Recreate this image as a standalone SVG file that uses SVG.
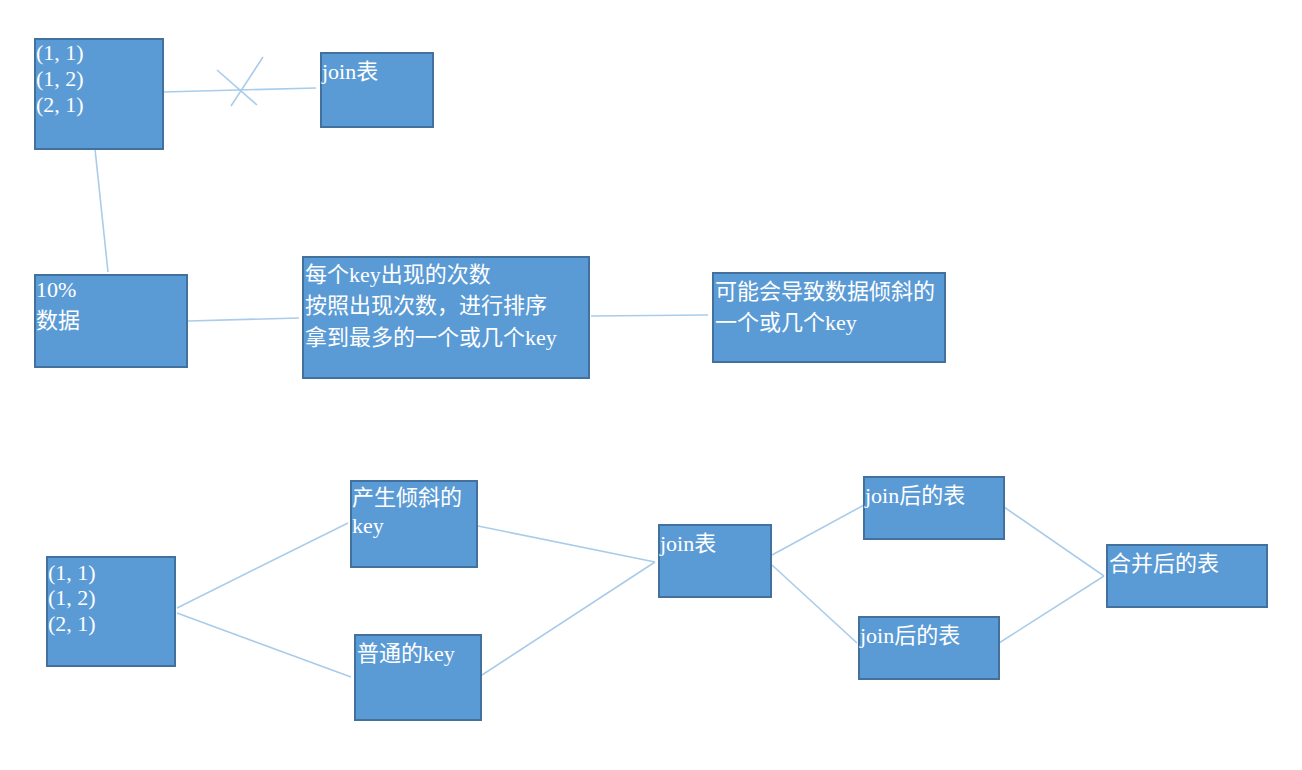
<svg xmlns="http://www.w3.org/2000/svg" width="1302" height="770" viewBox="0 0 1302 770">
<style>
.box{fill:#5B9BD5;stroke:#41719C;stroke-width:2}
.t{fill:#fff;font-family:"Liberation Serif","Noto Sans CJK SC",serif;font-size:22px}
.l{font-family:"Liberation Serif","Times New Roman",serif}
.c{stroke:#A9CCEA;stroke-width:1.6;fill:none}
</style>
<rect width="1302" height="770" fill="#fff"/>
<g id="connectors">
<line class="c" x1="163" y1="92" x2="316" y2="88"/>
<line class="c" x1="217" y1="70" x2="257" y2="105"/>
<line class="c" x1="263" y1="57" x2="231" y2="106"/>
<line class="c" x1="95" y1="149" x2="108" y2="272"/>
<line class="c" x1="188" y1="321" x2="299" y2="318"/>
<line class="c" x1="591" y1="316" x2="708" y2="315"/>
<line class="c" x1="177" y1="608" x2="348" y2="523"/>
<line class="c" x1="177" y1="613" x2="351" y2="677"/>
<line class="c" x1="478" y1="526" x2="655" y2="562"/>
<line class="c" x1="482" y1="675" x2="655" y2="562"/>
<line class="c" x1="772" y1="555" x2="864" y2="505"/>
<line class="c" x1="772" y1="565" x2="857" y2="643"/>
<line class="c" x1="1004" y1="507" x2="1104" y2="576"/>
<line class="c" x1="999" y1="643" x2="1104" y2="576"/>
</g>
<g id="n1"><rect class="box" x="35" y="39" width="128" height="110"/>
<text class="t l" x="36" y="60">(1, 1)</text><text class="t l" x="36" y="86">(1, 2)</text><text class="t l" x="36" y="112">(2, 1)</text></g>
<g id="n2"><rect class="box" x="321" y="53" width="112" height="74"/>
<text class="t" x="322" y="79"><tspan class="l">join</tspan>表</text></g>
<g id="n3"><rect class="box" x="35" y="275" width="152" height="92"/>
<text class="t l" x="36" y="297">10%</text><text class="t" x="36" y="328">数据</text></g>
<g id="n4"><rect class="box" x="303" y="257" width="286" height="121"/>
<text class="t" x="305" y="282">每个<tspan class="l">key</tspan>出现的次数</text><text class="t" x="305" y="313">按照出现次数，进行排序</text><text class="t" x="305" y="345">拿到最多的一个或几个<tspan class="l">key</tspan></text></g>
<g id="n5"><rect class="box" x="713" y="273" width="232" height="89"/>
<text class="t" x="715" y="299">可能会导致数据倾斜的</text><text class="t" x="715" y="330">一个或几个<tspan class="l">key</tspan></text></g>
<g id="n6"><rect class="box" x="47" y="557" width="128" height="109"/>
<text class="t l" x="48" y="580">(1, 1)</text><text class="t l" x="48" y="605">(1, 2)</text><text class="t l" x="48" y="631">(2, 1)</text></g>
<g id="n7"><rect class="box" x="351" y="481" width="126" height="86"/>
<text class="t" x="352" y="505">产生倾斜的</text><text class="t l" x="352" y="533">key</text></g>
<g id="n8"><rect class="box" x="355" y="635" width="126" height="85"/>
<text class="t" x="357" y="661">普通的<tspan class="l">key</tspan></text></g>
<g id="n9"><rect class="box" x="659" y="525" width="112" height="72"/>
<text class="t" x="660" y="551"><tspan class="l">join</tspan>表</text></g>
<g id="n10"><rect class="box" x="864" y="477" width="140" height="62"/>
<text class="t" x="865" y="503"><tspan class="l">join</tspan>后的表</text></g>
<g id="n11"><rect class="box" x="859" y="617" width="140" height="62"/>
<text class="t" x="860" y="643"><tspan class="l">join</tspan>后的表</text></g>
<g id="n12"><rect class="box" x="1107" y="545" width="160" height="62"/>
<text class="t" x="1109" y="571">合并后的表</text></g>
</svg>
